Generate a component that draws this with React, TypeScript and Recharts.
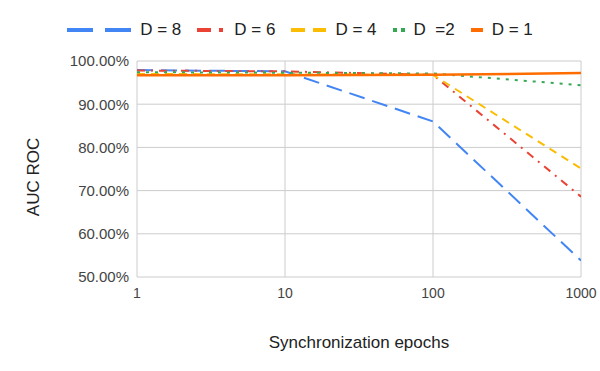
import { LineChart, Line, XAxis, YAxis, CartesianGrid } from 'recharts'

// synchronization epochs (log x axis)
const epochs = [1, 10, 100, 1000]

// AUC ROC in percent, one list per depth
const d8 = [97.9, 97.6, 86.0, 53.8]
const d6 = [97.8, 97.6, 96.8, 68.6]
const d4 = [97.0, 96.9, 96.8, 75.1]
const d2 = [97.4, 97.3, 97.1, 94.4]
const d1 = [96.7, 96.7, 96.8, 97.2]

const xTicks = [1, 10, 100, 1000]
const yTicks = [50, 60, 70, 80, 90, 100]

const seriesNames = ['D = 8', 'D = 6', 'D = 4', 'D  =2', 'D = 1']

const data = epochs.map((x, i) => ({
  x,
  d8: d8[i],
  d6: d6[i],
  d4: d4[i],
  d2: d2[i],
  d1: d1[i],
}))

const styles = [
  { key: 'd8', color: '#4285F4', dash: '16 8', width: 2, icon: 64, iconDash: '26 12' },
  { key: 'd6', color: '#EA4335', dash: '8 6 2 6', width: 2, icon: 28, iconDash: '14 8 4 8' },
  { key: 'd4', color: '#FBBC04', dash: '8 6', width: 2, icon: 35, iconDash: '14 8' },
  { key: 'd2', color: '#34A853', dash: '3 6', width: 2, icon: 12, iconDash: '4 4' },
  { key: 'd1', color: '#FF6D01', dash: undefined, width: 2.5, icon: 12, iconDash: undefined },
]

const font = '"Liberation Sans", Arial, sans-serif'

export default function App() {
  return (
    <div
      style={{
        position: 'absolute',
        left: 0,
        top: 0,
        width: 600,
        height: 371,
        background: '#fff',
        fontFamily: font,
      }}
    >
      <div
        style={{
          position: 'absolute',
          left: 0,
          top: 19,
          width: 600,
          height: 21,
          display: 'flex',
          justifyContent: 'center',
          alignItems: 'center',
          fontSize: 17,
          color: '#222',
        }}
      >
        {styles.map((s, i) => (
          <div
            key={s.key}
            style={{
              display: 'flex',
              alignItems: 'center',
              marginRight: i < styles.length - 1 ? 16 : 0,
            }}
          >
            <svg width={s.icon} height={10} style={{ marginRight: 9 }}>
              <line
                x1={0}
                y1={5}
                x2={s.icon}
                y2={5}
                stroke={s.color}
                strokeWidth={4}
                strokeDasharray={s.iconDash}
              />
            </svg>
            <span style={{ whiteSpace: 'pre' }}>{seriesNames[i]}</span>
          </div>
        ))}
      </div>

      <LineChart
        width={600}
        height={371}
        data={data}
        margin={{ top: 61, right: 19, bottom: 0, left: 0 }}
        style={{ position: 'absolute', left: 0, top: 0 }}
      >
        <CartesianGrid stroke="#cccccc" />
        <XAxis
          dataKey="x"
          type="number"
          scale="log"
          domain={[1, 1000]}
          ticks={xTicks}
          allowDataOverflow
          height={94}
          axisLine={false}
          tickLine={false}
          tickSize={0}
          tickMargin={11}
          tick={{ fill: '#444', fontSize: 14, fontFamily: font }}
          label={{
            value: 'Synchronization epochs',
            position: 'insideBottom',
            offset: 23,
            fill: '#222',
            fontSize: 17,
            fontFamily: font,
          }}
        />
        <YAxis
          type="number"
          domain={[50, 100]}
          ticks={yTicks}
          width={137}
          axisLine={false}
          tickLine={false}
          tickSize={0}
          tickMargin={8}
          tick={{ fill: '#444', fontSize: 15, fontFamily: font }}
          tickFormatter={(v: number) => `${v.toFixed(2)}%`}
          label={{
            content: () => (
              <text
                x={33}
                y={177}
                transform="rotate(-90, 33, 177)"
                textAnchor="middle"
                dominantBaseline="central"
                fill="#222"
                fontSize={17}
                fontFamily={font}
              >
                AUC ROC
              </text>
            ),
          }}
        />
        {styles.map((s, i) => (
          <Line
            key={s.key}
            type="linear"
            dataKey={s.key}
            name={seriesNames[i]}
            stroke={s.color}
            strokeWidth={s.width}
            strokeDasharray={s.dash}
            dot={false}
            activeDot={false}
            isAnimationActive={false}
          />
        ))}
      </LineChart>
    </div>
  )
}
